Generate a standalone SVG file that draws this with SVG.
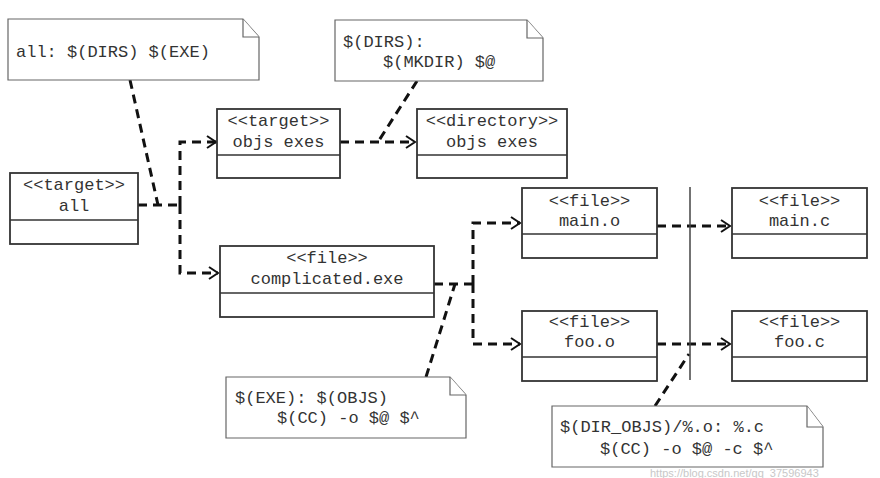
<svg xmlns="http://www.w3.org/2000/svg" width="880" height="478" viewBox="0 0 880 478">
<style>
.box{fill:#fff;stroke:#333;stroke-width:1.8}
.div{stroke:#333;stroke-width:1.6}
.note{fill:#fff;stroke:#666;stroke-width:1.2}
.t{font-family:"Liberation Mono","DejaVu Sans Mono",monospace;font-size:17px;fill:#333}
.c{text-anchor:middle}
.dash{fill:none;stroke:#111;stroke-width:3;stroke-dasharray:9 6}
.solid{fill:none;stroke:#444;stroke-width:1.5}
</style>
<defs>
<marker id="arr" markerWidth="12" markerHeight="14" refX="10" refY="7" orient="auto" markerUnits="userSpaceOnUse">
<path d="M1,1 L10,7 L1,13" fill="none" stroke="#111" stroke-width="2"/>
</marker>
</defs>
<rect width="880" height="478" fill="#fff"/>
<g id="connectors">
<path class="dash" d="M138,205 H180"/>
<path class="dash" d="M180,205 V142 H216" marker-end="url(#arr)"/>
<path class="dash" d="M180,205 V273 H218" marker-end="url(#arr)"/>
<path class="dash" d="M130,80 L158,205"/>
<path class="dash" d="M340,142 H415" marker-end="url(#arr)"/>
<path class="dash" d="M417,81 L378,142"/>
<path class="dash" d="M434,284 H473"/>
<path class="dash" d="M473,284 V223 H520" marker-end="url(#arr)"/>
<path class="dash" d="M473,284 V344 H520" marker-end="url(#arr)"/>
<path class="dash" d="M426,377 L455,284"/>
<path class="dash" d="M657,226 H730" marker-end="url(#arr)"/>
<path class="dash" d="M657,344 H730" marker-end="url(#arr)"/>
<path class="dash" d="M655,406 L689,354"/>
<path class="solid" d="M690,187 V380"/>
</g>
<g id="note-all">
<path class="note" d="M8,19 H243 L259,37 V80 H8 Z"/>
<path class="note" d="M243,19 V37 H259"/>
<text class="t" x="16" y="57">all: $(DIRS) $(EXE)</text>
</g>
<g id="note-dirs">
<path class="note" d="M335,20 H527 L543,38 V81 H335 Z"/>
<path class="note" d="M527,20 V38 H543"/>
<text class="t" x="343" y="47">$(DIRS):</text>
<text class="t" x="383" y="67">$(MKDIR) $@</text>
</g>
<g id="all">
<rect class="box" x="10" y="173" width="128" height="71"/>
<line class="div" x1="10" y1="220" x2="138" y2="220"/>
<text class="t c" x="74" y="190">&lt;&lt;target&gt;&gt;</text>
<text class="t c" x="74" y="211">all</text>
</g>
<g id="target-objs-exes">
<rect class="box" x="217" y="109" width="123" height="69"/>
<line class="div" x1="217" y1="155" x2="340" y2="155"/>
<text class="t c" x="278.5" y="126">&lt;&lt;target&gt;&gt;</text>
<text class="t c" x="278.5" y="147">objs exes</text>
</g>
<g id="directory-objs-exes">
<rect class="box" x="417" y="109" width="150" height="69"/>
<line class="div" x1="417" y1="155" x2="567" y2="155"/>
<text class="t c" x="492" y="126">&lt;&lt;directory&gt;&gt;</text>
<text class="t c" x="492" y="147">objs exes</text>
</g>
<g id="complicated-exe">
<rect class="box" x="220" y="246" width="214" height="71"/>
<line class="div" x1="220" y1="293" x2="434" y2="293"/>
<text class="t c" x="327" y="263">&lt;&lt;file&gt;&gt;</text>
<text class="t c" x="327" y="284">complicated.exe</text>
</g>
<g id="main-o">
<rect class="box" x="522" y="188" width="135" height="70"/>
<line class="div" x1="522" y1="234" x2="657" y2="234"/>
<text class="t c" x="589.5" y="206">&lt;&lt;file&gt;&gt;</text>
<text class="t c" x="589.5" y="226">main.o</text>
</g>
<g id="main-c">
<rect class="box" x="732" y="188" width="135" height="70"/>
<line class="div" x1="732" y1="234" x2="867" y2="234"/>
<text class="t c" x="799.5" y="206">&lt;&lt;file&gt;&gt;</text>
<text class="t c" x="799.5" y="226">main.c</text>
</g>
<g id="foo-o">
<rect class="box" x="522" y="311" width="135" height="70"/>
<line class="div" x1="522" y1="357" x2="657" y2="357"/>
<text class="t c" x="589.5" y="327">&lt;&lt;file&gt;&gt;</text>
<text class="t c" x="589.5" y="347">foo.o</text>
</g>
<g id="foo-c">
<rect class="box" x="732" y="311" width="135" height="70"/>
<line class="div" x1="732" y1="357" x2="867" y2="357"/>
<text class="t c" x="799.5" y="327">&lt;&lt;file&gt;&gt;</text>
<text class="t c" x="799.5" y="347">foo.c</text>
</g>
<g id="note-exe">
<path class="note" d="M226,377 H450 L466,395 V438 H226 Z"/>
<path class="note" d="M450,377 V395 H466"/>
<text class="t" x="235" y="403">$(EXE): $(OBJS)</text>
<text class="t" x="277" y="423">$(CC) -o $@ $^</text>
</g>
<g id="note-dir-objs">
<path class="note" d="M552,406 H807 L823,427 V467 H552 Z"/>
<path class="note" d="M807,406 V427 H823"/>
<text class="t" x="560" y="432">$(DIR_OBJS)/%.o: %.c</text>
<text class="t" x="600" y="454">$(CC) -o $@ -c $^</text>
</g>
<text x="650" y="477" font-family="Liberation Sans, Arial, sans-serif" font-size="11" fill="#c8c8c8">https://blog.csdn.net/qq_37596943</text>
</svg>
